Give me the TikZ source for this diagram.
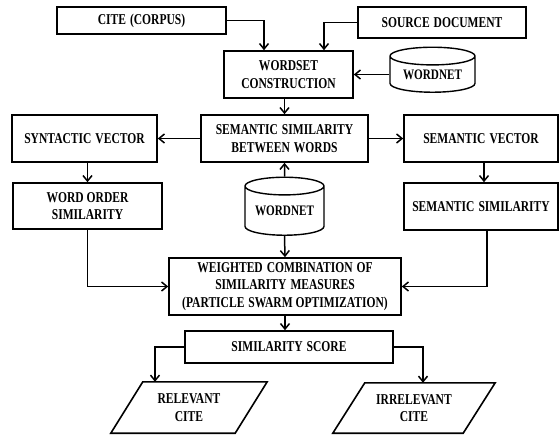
\documentclass[tikz,border=0pt]{standalone}
\usepackage{fontspec}
\setmainfont{Liberation Serif}[FakeStretch=0.77]
\newcommand{\wsp}{\hspace{4pt}}
\usetikzlibrary{arrows.meta,shapes.geometric}

\begin{document}
\begin{tikzpicture}[x=1pt,y=-1pt,
    box/.style={draw,line width=1.6pt,align=center,inner sep=0pt,font=\fontsize{15}{17.5}\selectfont\bfseries},
    db/.style={draw,line width=1.4pt,cylinder,shape border rotate=90,aspect=0.3,inner sep=0pt,font=\fontsize{14.5}{16}\selectfont\bfseries},
    io/.style={align=center,inner sep=0pt,font=\fontsize{15}{17.5}\selectfont\bfseries},
    arr/.style={-{Straight Barb[length=5.5pt,width=9pt]},line width=1.5pt}]
        \useasboundingbox (0,0) rectangle (559,435);

        \node[box,minimum width=169pt,minimum height=27pt] (cite) at (141.5,20.5) {CITE\wsp (CORPUS)};
        \node[box,minimum width=168pt,minimum height=31pt] (source) at (442,22.5) {SOURCE\wsp DOCUMENT};
        \node[box,minimum width=129pt,minimum height=47pt] (wordset) at (288.5,74.5) {WORDSET\\CONSTRUCTION};
        \node[db,minimum width=85pt,minimum height=45pt] (wordnetA) at (432.5,74.5) {WORDNET};

        \node[box,minimum width=167pt,minimum height=47pt] (semwords) at (284.5,138.5) {SEMANTIC\wsp SIMILARITY\\BETWEEN\wsp WORDS};
        \node[box,minimum width=145pt,minimum height=47pt] (synvec) at (84.5,138.5) {SYNTACTIC\wsp VECTOR};
        \node[box,minimum width=154pt,minimum height=47pt] (semvec) at (481,138.5) {SEMANTIC\wsp VECTOR};

        \node[box,minimum width=149pt,minimum height=46pt] (wordorder) at (87.5,206) {WORD ORDER\\SIMILARITY};
        \node[box,minimum width=154pt,minimum height=47pt] (semsim) at (481,206.5) {SEMANTIC\wsp SIMILARITY};
        \node[db,minimum width=79pt,minimum height=58pt] (wordnetB) at (284.5,211) {WORDNET};

        \node[box,minimum width=232pt,minimum height=57pt] (combine) at (285,286.5) {WEIGHTED\wsp COMBINATION\wsp OF\\SIMILARITY\wsp MEASURES\\(PARTICLE\wsp SWARM OPTIMIZATION)};
        \node[box,minimum width=208pt,minimum height=32pt] (score) at (289,347) {SIMILARITY\wsp SCORE};

        \node[io,minimum width=156pt,minimum height=51pt] (relevant) at (189,407.5) {RELEVANT\\CITE};
        \node[io,minimum width=162pt,minimum height=50pt] (irrelevant) at (414,408) {IRRELEVANT\\CITE};
        \draw[line width=1.6pt] ([xshift=32pt]relevant.north west) -- (relevant.north east) -- ([xshift=-32pt]relevant.south east) -- (relevant.south west) -- cycle;
        \draw[line width=1.6pt] ([xshift=32pt]irrelevant.north west) -- (irrelevant.north east) -- ([xshift=-32pt]irrelevant.south east) -- (irrelevant.south west) -- cycle;

        \draw[arr] (cite.east) -| ([xshift=-24.5pt]wordset.north);
        \draw[arr] (source.west) -| ([xshift=35.5pt]wordset.north);
        \draw[arr] (wordnetA.west) -- (wordset.east |- wordnetA.west);
        \draw[arr] (semwords.north |- wordset.south) -- (semwords.north);

        \draw[arr] (semwords.west) -- (synvec.east);
        \draw[arr] (semwords.east) -- (semvec.west);
        \draw[arr] (wordorder.north |- synvec.south) -- (wordorder.north);
        \draw[arr] ([xshift=3pt]semvec.south) -- ([xshift=3pt]semsim.north);
        \draw[arr] (wordnetB.north) -- (semwords.south);
        \draw[arr] (wordnetB.south) -- (combine.north);

        \draw[arr] (wordorder.south) |- (combine.west);
        \draw[arr] ([xshift=6pt]semsim.south) |- (combine.east);
        \draw[arr] (combine.south) -- (combine.south |- score.north);
        \draw[arr] (score.west) -| ([xshift=-34pt]relevant.north);
        \draw[arr] (score.east) -| ([xshift=9pt]irrelevant.north);
      \end{tikzpicture}
\end{document}
